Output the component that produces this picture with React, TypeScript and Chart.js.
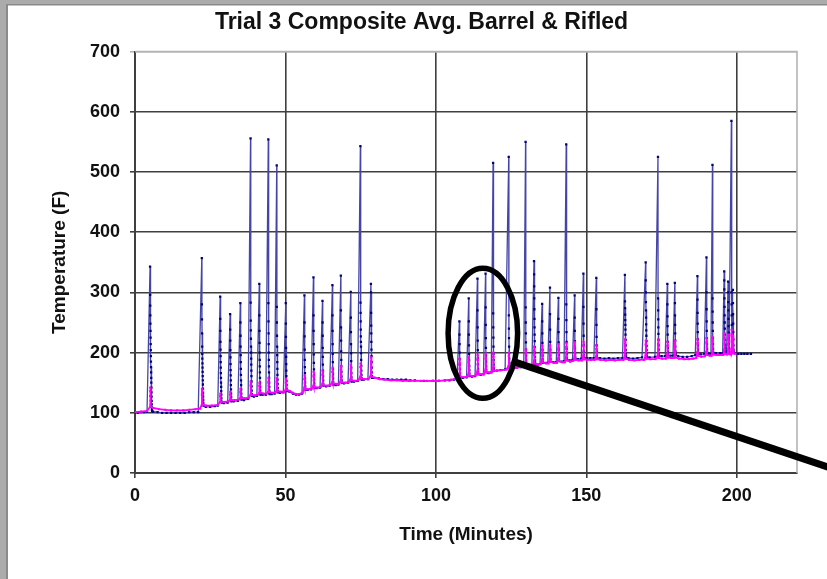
import { useEffect, useRef } from "react";
import { Chart, registerables } from "chart.js";

Chart.register(...registerables);

const CHART_TITLE = "Trial 3 Composite Avg. Barrel & Rifled";
const X_TITLE = "Time (Minutes)";
const Y_TITLE = "Temperature (F)";

const xTickValues = [0, 50, 100, 150, 200];
const X_MAX = 220;
const Y_MAX = 700;
const Y_STEP = 100;

// minutes between logged readings while a shot is being recorded
const SAMPLE_STEP = 0.03;

// time (minutes) at which each shot was fired
const shotTimes = [
  5.0, 22.2, 28.3, 31.6, 35.0, 38.4, 41.3, 44.3, 47.1, 50.1,
  56.3, 59.3, 62.3, 65.6, 68.4, 71.7, 74.9, 78.4,
  107.8, 110.9, 113.8, 116.5, 119.0, 124.2, 129.8, 132.6, 135.3, 137.9,
  140.7, 143.3, 146.1, 149.0, 153.3,
  162.8, 169.7, 173.8, 176.9, 179.4, 186.9, 189.9, 191.9, 195.8, 197.1,
  198.2, 198.7,
];

// barrel readings logged during each shot (peak first, then the decay)
const barrelShotReadings = [
  [343, 296, 278, 262, 248, 236, 225, 214, 204, 194, 185, 176, 167, 158, 150, 142, 134, 127, 120, 114, 109, 105, 103],
  [357, 280, 255, 232, 210, 198, 190, 182, 175, 168, 161, 154, 147, 140, 133, 127, 121, 116, 112],
  [293, 256, 236, 218, 205, 194, 184, 175, 166, 158, 150, 143, 136, 130, 124, 119, 117],
  [264, 238, 220, 204, 192, 181, 171, 162, 154, 146, 139, 132, 126, 121, 119],
  [282, 250, 228, 210, 196, 184, 173, 163, 154, 146, 139, 132, 126, 122],
  [556, 283, 253, 237, 223, 210, 200, 190, 180, 170, 161, 152, 144, 137, 131, 128],
  [314, 262, 236, 216, 200, 188, 177, 167, 158, 150, 143, 137, 132, 130],
  [554, 282, 252, 232, 214, 200, 188, 177, 167, 158, 150, 143, 137, 133, 131],
  [511, 276, 250, 228, 210, 196, 184, 173, 163, 155, 148, 141, 136, 134],
  [282, 248, 226, 208, 193, 181, 170, 161, 153, 146, 140, 136],
  [295, 250, 227, 205, 188, 176, 166, 157, 150, 144, 140, 138],
  [325, 262, 236, 214, 197, 183, 172, 163, 155, 149, 144, 141],
  [286, 250, 228, 208, 193, 180, 170, 161, 154, 148, 145],
  [312, 262, 236, 214, 198, 184, 173, 164, 157, 151, 147],
  [328, 270, 242, 220, 202, 188, 177, 168, 160, 154, 150],
  [301, 258, 234, 214, 199, 186, 175, 166, 159, 154, 152],
  [543, 283, 266, 252, 238, 227, 218, 210, 199, 188, 178, 170, 163, 158, 155],
  [314, 300, 266, 245, 232, 218, 205, 194, 184, 175, 167, 161, 158],
  [252, 230, 214, 200, 189, 180, 172, 166, 161, 158],
  [290, 252, 230, 212, 198, 187, 178, 171, 165, 161],
  [323, 270, 242, 220, 204, 191, 181, 173, 167, 164],
  [331, 275, 246, 224, 208, 195, 185, 177, 171, 167],
  [515, 265, 242, 225, 210, 198, 188, 180, 174, 170],
  [525, 262, 240, 224, 210, 199, 190, 183, 177, 174],
  [550, 275, 250, 232, 217, 205, 195, 187, 181, 178],
  [352, 330, 310, 290, 272, 256, 242, 230, 219, 209, 200, 193, 187, 183, 180],
  [281, 252, 232, 216, 204, 195, 189, 185, 183],
  [308, 264, 238, 218, 204, 195, 189, 185],
  [291, 256, 234, 217, 205, 196, 190, 186],
  [546, 280, 254, 234, 218, 206, 197, 191, 188],
  [295, 258, 236, 219, 207, 198, 193, 190],
  [331, 276, 248, 228, 213, 202, 196, 192],
  [324, 272, 246, 226, 212, 202, 195, 191],
  [329, 285, 274, 263, 254, 246, 238, 230, 221, 212, 204, 198, 194, 192],
  [350, 320, 300, 284, 270, 258, 247, 237, 228, 219, 211, 204, 199, 195, 193],
  [525, 290, 270, 255, 242, 231, 221, 212, 205, 199, 196, 194],
  [314, 280, 260, 244, 230, 218, 208, 201, 197, 195],
  [316, 282, 262, 246, 232, 220, 210, 202, 198, 196],
  [327, 288, 266, 248, 234, 222, 212, 205, 200, 198],
  [358, 300, 272, 252, 236, 224, 214, 206, 201, 198],
  [512, 290, 268, 250, 236, 224, 214, 206, 201, 199],
  [335, 320, 305, 290, 276, 262, 250, 240, 230, 221, 213, 207, 203, 200],
  [318, 300, 284, 270, 256, 244, 233, 223, 214, 207, 202, 200],
  [585, 300, 280, 262, 246, 232, 220, 210, 203, 200],
  [304, 282, 264, 248, 234, 222, 212, 205, 201, 199],
];

// barrel readings between shots
const barrelRestTimes = [
  0, 1, 2, 3, 4,
  6, 7.5, 9, 10.5, 12, 13.5, 15, 16.5, 18, 19.5, 21,
  23.5, 25, 26.5, 27.5, 29.5, 30.8, 32.8, 34.2, 36.2, 37.6, 39.5, 40.5,
  42.4, 43.5, 45.4, 46.4, 48.2, 49.3, 51.3, 52.5, 53.5, 54.5, 55.5,
  57.4, 58.5, 60.4, 61.5, 63.5, 64.7, 66.7, 67.6, 69.5, 70.8, 72.8, 74,
  76, 77.4,
  79.5, 81, 82.5, 84, 85.5, 87, 88.5, 90, 91.5, 93, 96, 99, 101, 103, 104.5, 106, 107,
  109, 110.2, 112, 113, 114.9, 115.8, 117.5, 118.4, 120.2, 121.5, 123,
  125.3, 126.8, 128.3, 129.2, 130.9, 131.9, 133.8, 134.6, 136.4, 137.2,
  139, 140, 141.8, 142.6, 144.4, 145.4, 147.2, 148.3, 150.1, 151.3, 152.5,
  154.5, 156, 157.5, 159, 160.5, 162, 164, 165.5, 167, 168.5, 171, 172.8,
  175, 176.2, 178, 178.8, 180.5, 182, 183.5, 185, 186.2, 188, 189.2,
  190.8, 191.4, 193, 194.5, 195.3, 196.6, 197.7,
  199.5, 200.5, 201.5, 202.5, 203.5, 204.7,
];
const barrelRestTemps = [
  100, 100, 101, 101, 102,
  102, 101, 100, 100, 100, 100, 100, 100, 101, 101, 101,
  110, 110, 111, 112, 116, 117, 119, 120, 121, 123, 127, 128,
  130, 130, 131, 132, 133, 134, 135, 132, 130, 130, 132,
  138, 139, 141, 142, 144, 145, 146, 147, 149, 150, 152, 153,
  155, 156,
  158, 157, 156, 156, 155, 155, 155, 155, 154, 154, 153, 153, 153, 154, 154, 155, 156,
  158, 159, 160, 161, 163, 164, 166, 167, 170, 171, 172,
  174, 175, 176, 177, 178, 179, 180, 181, 183, 183,
  184, 184, 185, 186, 187, 188, 189, 190, 191, 191, 191,
  191, 190, 191, 190, 191, 191, 191, 190, 191, 192, 192, 193,
  194, 194, 195, 195, 194, 193, 193, 194, 196, 197, 198,
  198, 198, 199, 199, 199, 200, 200,
  199, 198, 198, 198, 198, 198,
];

// rifled readings logged during each shot
const rifledShotReadings = [
  [110, 128, 142, 136, 128, 120, 114, 110],
  [113, 130, 140, 133, 125, 118, 114],
  [118, 128, 132, 127, 122, 118],
  [121, 130, 135, 130, 125, 121],
  [124, 134, 140, 135, 129, 125],
  [130, 145, 152, 147, 140, 134, 130],
  [133, 144, 150, 145, 139, 134],
  [135, 150, 158, 152, 145, 139, 135],
  [137, 151, 158, 152, 146, 140, 136],
  [139, 150, 156, 150, 144, 139],
  [142, 156, 162, 156, 149, 143, 140],
  [145, 160, 168, 162, 154, 147, 143],
  [148, 163, 170, 164, 157, 150, 146],
  [151, 168, 175, 168, 160, 153, 149],
  [154, 171, 178, 171, 163, 156, 151],
  [157, 173, 180, 173, 165, 158, 154],
  [160, 176, 182, 176, 168, 161, 157],
  [163, 182, 192, 186, 176, 167, 160],
  [163, 180, 190, 183, 174, 166, 160],
  [166, 184, 192, 185, 176, 168, 162],
  [169, 188, 196, 189, 180, 171, 165],
  [172, 190, 198, 191, 182, 174, 168],
  [175, 193, 200, 193, 184, 176, 170],
  [179, 194, 200, 194, 186, 179, 175],
  [183, 198, 205, 199, 191, 184, 179],
  [186, 203, 210, 204, 196, 188, 182],
  [189, 205, 212, 206, 198, 190, 184],
  [190, 206, 212, 206, 198, 191, 185],
  [191, 207, 214, 208, 200, 192, 186],
  [193, 209, 216, 209, 201, 193, 187],
  [194, 211, 218, 211, 203, 195, 188],
  [195, 211, 218, 211, 203, 195, 189],
  [194, 206, 212, 206, 199, 193, 189],
  [196, 214, 222, 215, 205, 196, 190],
  [196, 213, 220, 214, 205, 196, 190],
  [197, 214, 222, 215, 206, 197, 191],
  [198, 211, 218, 212, 204, 196, 192],
  [198, 213, 220, 213, 205, 197, 192],
  [201, 215, 222, 216, 208, 200, 195],
  [202, 217, 224, 217, 209, 201, 196],
  [203, 219, 226, 219, 210, 202, 197],
  [205, 224, 232, 225, 215, 205, 198],
  [204, 222, 230, 223, 213, 204, 198],
  [206, 228, 238, 230, 218, 207, 199],
  [205, 220, 228, 221, 212, 204, 199],
];

// rifled readings between shots
const rifledRestTimes = [
  0, 2, 4,
  6, 8, 10, 12, 14, 16, 18, 20, 21.6,
  23.5, 25.5, 27.5, 29.5, 31, 33, 34.5, 36.4, 37.8, 39.7, 40.8,
  42.6, 43.8, 45.6, 46.7, 48.4, 49.6, 51.5, 52.5, 53.5, 54.5, 55.7,
  57.6, 58.7, 60.6, 61.7, 63.7, 64.9, 66.9, 67.8, 69.7, 71, 73, 74.2,
  76.2, 77.6,
  79.8, 81.5, 83, 85, 87, 89, 91, 93, 95, 97, 99, 101, 103, 105, 107,
  109.2, 110.4, 112.2, 113.2, 115.1, 116, 117.7, 118.6, 120.4, 122, 123.5,
  125.5, 127, 128.5, 129.4, 131.1, 132.1, 134, 134.8, 136.6, 137.4,
  139.2, 140.2, 142, 142.8, 144.6, 145.6, 147.4, 148.5, 150.3, 151.5, 152.7,
  154.7, 156.5, 158, 159.5, 161, 162.3, 164.2, 166, 167.5, 169.2, 171.2, 173,
  175.2, 176.4, 178.2, 179, 180.8, 182.5, 184, 185.5, 186.5, 188.2, 189.4,
  191, 191.6, 193.2, 194.7, 195.5, 196.8, 197.9,
  199.5,
];
const rifledRestTemps = [
  101, 102, 103,
  108, 106, 105, 104, 104, 104, 105, 106, 107,
  112, 112, 113, 118, 119, 121, 122, 124, 125, 129, 130,
  132, 132, 133, 134, 135, 135, 136, 133, 131, 131, 133,
  139, 140, 142, 143, 145, 146, 148, 148, 150, 151, 153, 154,
  156, 156,
  158, 156, 155, 154, 154, 153, 153, 153, 153, 153, 153, 153, 154, 155, 156,
  159, 160, 161, 162, 164, 165, 167, 168, 170, 171, 172,
  174, 175, 176, 177, 178, 179, 180, 181, 182, 182,
  183, 183, 184, 184, 185, 186, 187, 187, 188, 188, 188,
  188, 187, 188, 187, 188, 188, 188, 187, 188, 188, 189, 189,
  190, 190, 191, 191, 190, 189, 189, 190, 191, 193, 194,
  195, 195, 196, 196, 196, 197, 197,
  198,
];

// circled region and its leader line, in axis units (minutes, °F)
const calloutEllipse = { x: 115.6, y: 232, rx: 11.55, ry: 108 };
const calloutLeader = { x1: 126.1, y1: 184.7, x2: 234.6, y2: 2.5 };

const FONT = "'Liberation Sans', Arial, Helvetica, sans-serif";

type Pt = { x: number; y: number };

function buildSeries(restTimes: number[], restTemps: number[], shots: number[][]): Pt[] {
  const pts: Pt[] = restTimes.map((t, i) => ({ x: t, y: restTemps[i] }));
  shots.forEach((readings, s) => {
    readings.forEach((v, k) => pts.push({ x: shotTimes[s] + k * SAMPLE_STEP, y: v }));
  });
  pts.sort((a, b) => a.x - b.x);
  return pts;
}

const framePlugin = {
  id: "frame",
  beforeDraw(chart: any) {
    const { ctx, width, height } = chart;
    ctx.save();
    ctx.fillStyle = "#ffffff";
    ctx.fillRect(0, 0, width, height);
    ctx.fillStyle = "#ababab";
    ctx.fillRect(0, 0, 6, height);
    ctx.fillRect(0, 0, width, 4);
    ctx.fillStyle = "#8a8a8a";
    ctx.fillRect(6, 4, 2, height - 4);
    ctx.fillRect(6, 4, width - 6, 1.5);
    ctx.restore();
  },
  afterDraw(chart: any) {
    const { ctx, chartArea } = chart;
    const xs = chart.scales.x;
    const ys = chart.scales.y;
    ctx.save();
    // light plot border on the top and right
    ctx.strokeStyle = "#b4b4b4";
    ctx.lineWidth = 1.6;
    ctx.beginPath();
    ctx.moveTo(chartArea.left, chartArea.top);
    ctx.lineTo(chartArea.right, chartArea.top);
    ctx.lineTo(chartArea.right, chartArea.bottom);
    ctx.stroke();

    // callout ellipse and leader
    const cx = xs.getPixelForValue(calloutEllipse.x);
    const cy = ys.getPixelForValue(calloutEllipse.y);
    const rx = Math.abs(xs.getPixelForValue(calloutEllipse.x + calloutEllipse.rx) - cx);
    const ry = Math.abs(ys.getPixelForValue(calloutEllipse.y + calloutEllipse.ry) - cy);
    ctx.strokeStyle = "#000000";
    ctx.lineWidth = 5.5;
    ctx.beginPath();
    ctx.ellipse(cx, cy, rx, ry, 0, 0, Math.PI * 2);
    ctx.stroke();

    ctx.lineWidth = 7;
    ctx.beginPath();
    ctx.moveTo(xs.getPixelForValue(calloutLeader.x1), ys.getPixelForValue(calloutLeader.y1));
    ctx.lineTo(xs.getPixelForValue(calloutLeader.x2), ys.getPixelForValue(calloutLeader.y2));
    ctx.stroke();
    ctx.restore();
  },
};

export default function App() {
  const canvasRef = useRef<HTMLCanvasElement | null>(null);

  useEffect(() => {
    if (!canvasRef.current) return;
    const barrel = buildSeries(barrelRestTimes, barrelRestTemps, barrelShotReadings);
    const rifled = buildSeries(rifledRestTimes, rifledRestTemps, rifledShotReadings);

    const chart = new Chart(canvasRef.current, {
      type: "scatter",
      data: {
        datasets: [
          {
            label: "Barrel",
            data: barrel,
            showLine: true,
            borderColor: "#4545a8",
            borderWidth: 1.3,
            pointStyle: "rect",
            pointRadius: 1.6,
            pointBackgroundColor: "#000080",
            pointBorderWidth: 0,
            order: 2,
          },
          {
            label: "Rifled",
            data: rifled,
            showLine: true,
            borderColor: "#ff00ff",
            borderWidth: 1.8,
            pointStyle: "rect",
            pointRadius: 1.5,
            pointBackgroundColor: "#ff00ff",
            pointBorderWidth: 0,
            order: 1,
          },
        ],
      },
      options: {
        animation: false,
        responsive: false,
        events: [],
        layout: { padding: { left: 46, right: 30, top: 0, bottom: 32 } },
        plugins: {
          legend: { display: false },
          tooltip: { enabled: false },
          title: {
            display: true,
            text: CHART_TITLE,
            color: "#111",
            font: { family: FONT, size: 23, weight: "bold" },
            padding: { top: 9, bottom: 15 },
          },
        },
        scales: {
          x: {
            type: "linear",
            min: 0,
            max: X_MAX,
            afterBuildTicks: (scale: any) => {
              scale.ticks = xTickValues.map((value) => ({ value }));
            },
            afterFit: (scale: any) => {
              scale.height = 74;
            },
            grid: { color: "#3f3f3f", lineWidth: 1.6, tickLength: 5 },
            border: { color: "#3f3f3f", width: 2 },
            ticks: {
              color: "#111",
              font: { family: FONT, size: 18, weight: "bold" },
              padding: 7,
              maxRotation: 0,
            },
            title: {
              display: true,
              text: X_TITLE,
              color: "#111",
              font: { family: FONT, size: 19, weight: "bold" },
              padding: { top: 0, bottom: 1 },
            },
          },
          y: {
            type: "linear",
            min: 0,
            max: Y_MAX,
            afterFit: (scale: any) => {
              scale.width = 89;
            },
            grid: {
              color: (c: any) => (c.tick && c.tick.value === Y_MAX ? "#b4b4b4" : "#3f3f3f"),
              lineWidth: 1.6,
              tickLength: 5,
            },
            border: { color: "#3f3f3f", width: 2 },
            ticks: {
              stepSize: Y_STEP,
              color: "#111",
              font: { family: FONT, size: 18, weight: "bold" },
              padding: 10,
            },
            title: {
              display: true,
              text: Y_TITLE,
              color: "#111",
              font: { family: FONT, size: 19, weight: "bold" },
              padding: { top: 2, bottom: 0 },
            },
          },
        },
      },
      plugins: [framePlugin],
    });
    return () => chart.destroy();
  }, []);

  return (
    <div style={{ position: "fixed", left: 0, top: 0, width: 827, height: 579, background: "#fff" }}>
      <canvas ref={canvasRef} width={827} height={579} style={{ display: "block" }} />
    </div>
  );
}
